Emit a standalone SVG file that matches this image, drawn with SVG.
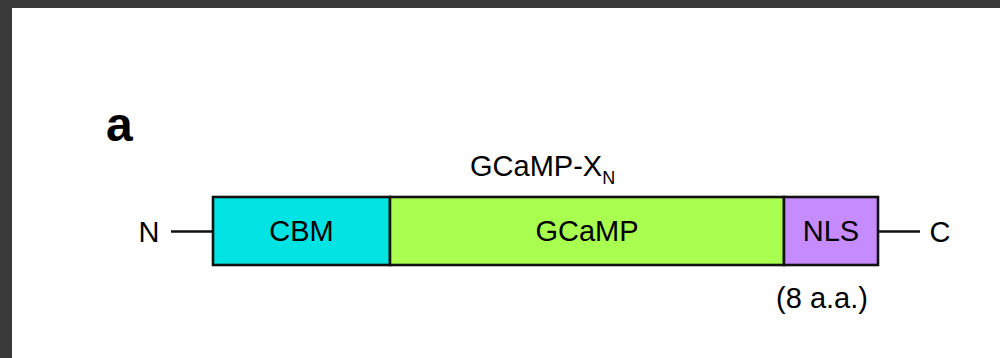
<svg xmlns="http://www.w3.org/2000/svg" width="1000" height="358" viewBox="0 0 1000 358">
<style>
.t{font-family:"Liberation Sans",Arial,sans-serif;font-size:29px;fill:#000}
.box{stroke:#111;stroke-width:2.6}
.ln{stroke:#111;stroke-width:2.6;fill:none}
</style>
<rect x="0" y="0" width="1000" height="358" fill="#3a3a3a"/>
<rect x="12" y="8" width="988" height="350" fill="#ffffff"/>
<text x="106" y="141" style="font-family:'Liberation Sans',Arial,sans-serif;font-size:48px;font-weight:bold">a</text>
<text class="t" x="470" y="176">GCaMP-X<tspan font-size="18" dy="8">N</tspan></text>
<g id="connectors">
<line class="ln" x1="171" y1="231.5" x2="213" y2="231.5"/>
<line class="ln" x1="878" y1="231.5" x2="920" y2="231.5"/>
</g>
<g id="N"><text class="t" x="149" y="241.5" text-anchor="middle">N</text></g>
<g id="C"><text class="t" x="940" y="241.5" text-anchor="middle">C</text></g>
<g id="CBM">
<rect class="box" x="213" y="197" width="177" height="68" fill="#00e3e3"/>
<text class="t" x="301.5" y="241" text-anchor="middle">CBM</text>
</g>
<g id="GCaMP">
<rect class="box" x="390" y="197" width="394" height="68" fill="#a8ff50"/>
<text class="t" x="587" y="241" text-anchor="middle">GCaMP</text>
</g>
<g id="NLS">
<rect class="box" x="784" y="197" width="94" height="68" fill="#c68cff"/>
<text class="t" x="831" y="241" text-anchor="middle">NLS</text>
</g>
<text class="t" x="822" y="308" text-anchor="middle">(8 a.a.)</text>
</svg>
